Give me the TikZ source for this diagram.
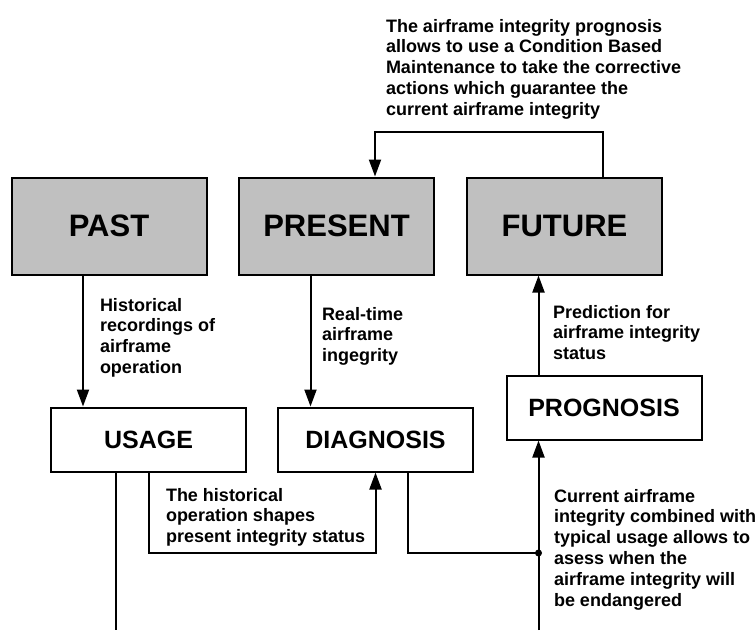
\documentclass[tikz,border=0pt]{standalone}
\usepackage{fontspec}
\setmainfont{Liberation Sans}
\usetikzlibrary{arrows.meta}
\begin{document}
\begin{tikzpicture}[x=1pt,y=-1pt,
  line width=2pt,
  bigbox/.style={draw=black,fill=boxgray,minimum width=195pt,minimum height=97pt,inner sep=0pt,font=\fontsize{31}{36}\selectfont\bfseries},
  smallbox/.style={draw=black,fill=white,minimum width=195pt,minimum height=64pt,inner sep=0pt,font=\fontsize{25}{30}\selectfont\bfseries},
  note/.style={anchor=north west,inner sep=0pt,align=left,font=\fontsize{18}{20.8}\selectfont\bfseries},
  arr/.style={-{Triangle[length=17pt,width=12pt]}},
  jdot/.style={circle,fill=black,inner sep=0pt,minimum size=7pt}]
\definecolor{boxgray}{HTML}{C0C0C0}
\useasboundingbox (0,0) rectangle (755,630);

\node[bigbox] (past) at (109,226) {PAST};
\node[bigbox] (present) at (336.5,226) {PRESENT};
\node[bigbox] (future) at (564.5,226) {FUTURE};

\node[smallbox] (usage) at (148.5,439.5) {USAGE};
\node[smallbox] (diagnosis) at (375.5,439.5) {DIAGNOSIS};
\node[smallbox] (prognosis) at (604,407.5) {PROGNOSIS};

\node[note] (ttop) at (385,18) {The airframe integrity prognosis\\allows to use a Condition Based\\Maintenance to take the corrective\\actions which guarantee the\\current airframe integrity};
\node[note] (thist) at (99,297) {Historical\\recordings of\\airframe\\operation};
\node[note] (treal) at (321,306) {Real-time\\airframe\\ingegrity};
\node[note] (tpred) at (552,304) {Prediction for\\airframe integrity\\status};
\node[note] (tshape) at (165,487) {The historical\\operation shapes\\present integrity status};
\node[note] (tcurr) at (553,488) {Current airframe\\integrity combined with\\typical usage allows to\\asess when the\\airframe integrity will\\be endangered};

\coordinate (junc) at (538.5,553);
\coordinate (usagebot) at (116,630);
\coordinate (progbot) at (538.5,630);

% feedback loop
\draw[arr] ([xshift=38.5pt]future.north) -- ++(0,-45) -| ([xshift=38.5pt]present.north);
% past -> usage
\draw[arr] ([xshift=-26pt]past.south) -- ([xshift=-26pt]past.south |- usage.north);
% present -> diagnosis
\draw[arr] ([xshift=-26pt]present.south) -- ([xshift=-26pt]present.south |- diagnosis.north);
% usage -> down
\draw (usage.south -| usagebot) -- (usagebot);
% usage -> diagnosis
\draw[arr] (usage.south) -- (usage.south |- junc) -| (diagnosis.south);
% diagnosis -> junction
\draw ([xshift=32.5pt]diagnosis.south) |- (junc);
% bottom -> prognosis
\draw[arr] (progbot) -- (progbot |- prognosis.south);
% prognosis -> future
\draw[arr] (prognosis.north -| progbot) -- (future.south -| progbot);
\node[jdot] (jd) at (junc) {};
\end{tikzpicture}
\end{document}
